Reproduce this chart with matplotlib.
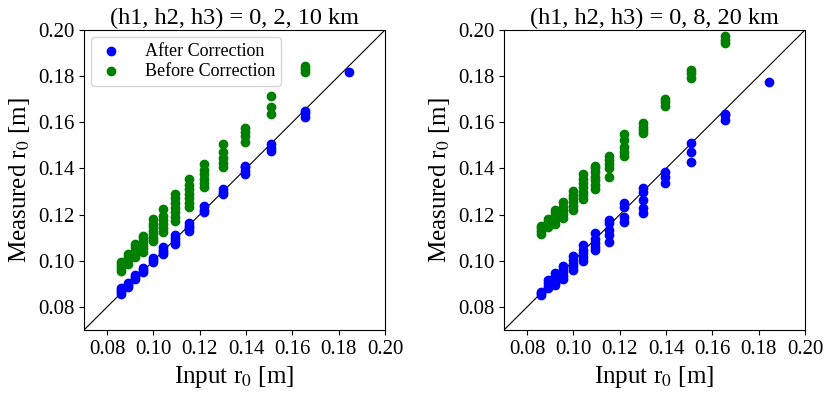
import matplotlib.pyplot as plt
import numpy as np

plt.rcParams['font.family'] = ['Liberation Serif', 'DejaVu Serif']
plt.rcParams['mathtext.fontset'] = 'stix'

# input r0 values (cluster positions)
r0_in = [0.0858, 0.0889, 0.0922, 0.0956, 0.0999, 0.1043, 0.1094,
         0.1152, 0.1218, 0.1299, 0.1394, 0.1509, 0.1656, 0.1846]

# left panel: (h1, h2, h3) = 0, 2, 10 km
after_1 = [
    [0.0855, 0.0865, 0.0875, 0.0880],
    [0.0888, 0.0895, 0.0902],
    [0.0920, 0.0930, 0.0940],
    [0.0950, 0.0960, 0.0970],
    [0.0993, 0.1003, 0.1013],
    [0.1028, 0.1038, 0.1048, 0.1058],
    [0.1072, 0.1085, 0.1098, 0.1110],
    [0.1128, 0.1140, 0.1152, 0.1165],
    [0.1210, 0.1222, 0.1238],
    [0.1288, 0.1300, 0.1312],
    [0.1375, 0.1390, 0.1405, 0.1412],
    [0.1475, 0.1490, 0.1505],
    [0.1622, 0.1640, 0.1650],
    [0.1817],
]
before_1 = [
    [0.0955, 0.0968, 0.0980, 0.0995],
    [0.0985, 0.1000, 0.1015, 0.1030],
    [0.1015, 0.1030, 0.1045, 0.1060, 0.1073],
    [0.1037, 0.1055, 0.1070, 0.1085, 0.1100, 0.1108],
    [0.1085, 0.1100, 0.1115, 0.1130, 0.1145, 0.1160, 0.1180],
    [0.1125, 0.1140, 0.1160, 0.1175, 0.1195, 0.1225],
    [0.1172, 0.1190, 0.1210, 0.1230, 0.1250, 0.1270, 0.1290],
    [0.1232, 0.1250, 0.1270, 0.1290, 0.1310, 0.1330, 0.1355],
    [0.1318, 0.1335, 0.1355, 0.1375, 0.1395, 0.1420],
    [0.1405, 0.1425, 0.1445, 0.1470, 0.1505],
    [0.1515, 0.1540, 0.1560, 0.1575],
    [0.1635, 0.1665, 0.1712],
    [0.1820, 0.1830, 0.1842],
    [],
]

# right panel: (h1, h2, h3) = 0, 8, 20 km
after_2 = [
    [0.0852, 0.0860, 0.0866],
    [0.0880, 0.0892, 0.0905, 0.0915],
    [0.0893, 0.0905, 0.0918, 0.0932, 0.0945],
    [0.0920, 0.0935, 0.0950, 0.0963, 0.0978],
    [0.0958, 0.0972, 0.0988, 0.1003, 0.1020],
    [0.1000, 0.1015, 0.1032, 0.1048, 0.1070],
    [0.1045, 0.1060, 0.1078, 0.1095, 0.1120],
    [0.1083, 0.1112, 0.1133, 0.1162, 0.1177],
    [0.1169, 0.1191, 0.1234, 0.1250],
    [0.1206, 0.1227, 0.1263, 0.1299, 0.1315],
    [0.1338, 0.1364, 0.1386],
    [0.1429, 0.1473, 0.1509],
    [0.1612, 0.1630, 0.1638],
    [0.1773],
]
before_2 = [
    [0.1115, 0.1128, 0.1140, 0.1152],
    [0.1145, 0.1160, 0.1172, 0.1182],
    [0.1158, 0.1175, 0.1192, 0.1207, 0.1218],
    [0.1187, 0.1202, 0.1218, 0.1235, 0.1253],
    [0.1222, 0.1238, 0.1255, 0.1270, 0.1287, 0.1303],
    [0.1268, 0.1283, 0.1300, 0.1318, 0.1335, 0.1355, 0.1375],
    [0.1312, 0.1330, 0.1348, 0.1365, 0.1383, 0.1400, 0.1412],
    [0.1362, 0.1401, 0.1419, 0.1437, 0.1454],
    [0.1454, 0.1473, 0.1492, 0.1523, 0.1550],
    [0.1552, 0.1565, 0.1580, 0.1595],
    [0.1670, 0.1690, 0.1700],
    [0.1791, 0.1812, 0.1827],
    [0.1945, 0.1958, 0.1975],
    [],
]

titles = ['(h1, h2, h3) = 0, 2, 10 km', '(h1, h2, h3) = 0, 8, 20 km']
ticks = [0.08, 0.10, 0.12, 0.14, 0.16, 0.18, 0.20]


def flatten(groups):
    xs, ys = [], []
    for x, vals in zip(r0_in, groups):
        xs += [x] * len(vals)
        ys += vals
    return xs, ys


fig = plt.figure(figsize=(8.31, 3.98), dpi=100)
ax1 = fig.add_axes([0.1011, 0.1709, 0.3622, 0.7538])
ax2 = fig.add_axes([0.6065, 0.1709, 0.3622, 0.7538])

for ax, after, before, title, show_leg in [(ax1, after_1, before_1, titles[0], True),
                                           (ax2, after_2, before_2, titles[1], False)]:
    xa, ya = flatten(after)
    xb, yb = flatten(before)
    ax.plot([0.07, 0.20], [0.07, 0.20], color='black', lw=0.8, zorder=1)
    ax.scatter(xa, ya, s=36, color='blue', label='After Correction', zorder=2)
    ax.scatter(xb, yb, s=36, color='green', label='Before Correction', zorder=2)
    ax.set_xlim(0.07, 0.20)
    ax.set_ylim(0.07, 0.20)
    ax.set_xticks(ticks)
    ax.set_yticks(ticks)
    ax.tick_params(labelsize=15)
    ax.set_title(title, fontsize=17.5, pad=4)
    ax.set_xlabel('Input r$_0$ [m]', fontsize=18)
    ax.set_ylabel('Measured r$_0$ [m]', fontsize=18)
    if show_leg:
        ax.legend(loc='upper left', fontsize=13, handlelength=1.6,
                  handletextpad=1.1, borderpad=0.3, labelspacing=0.2,
                  borderaxespad=0.4)

fig.savefig('out.png', dpi=100)
